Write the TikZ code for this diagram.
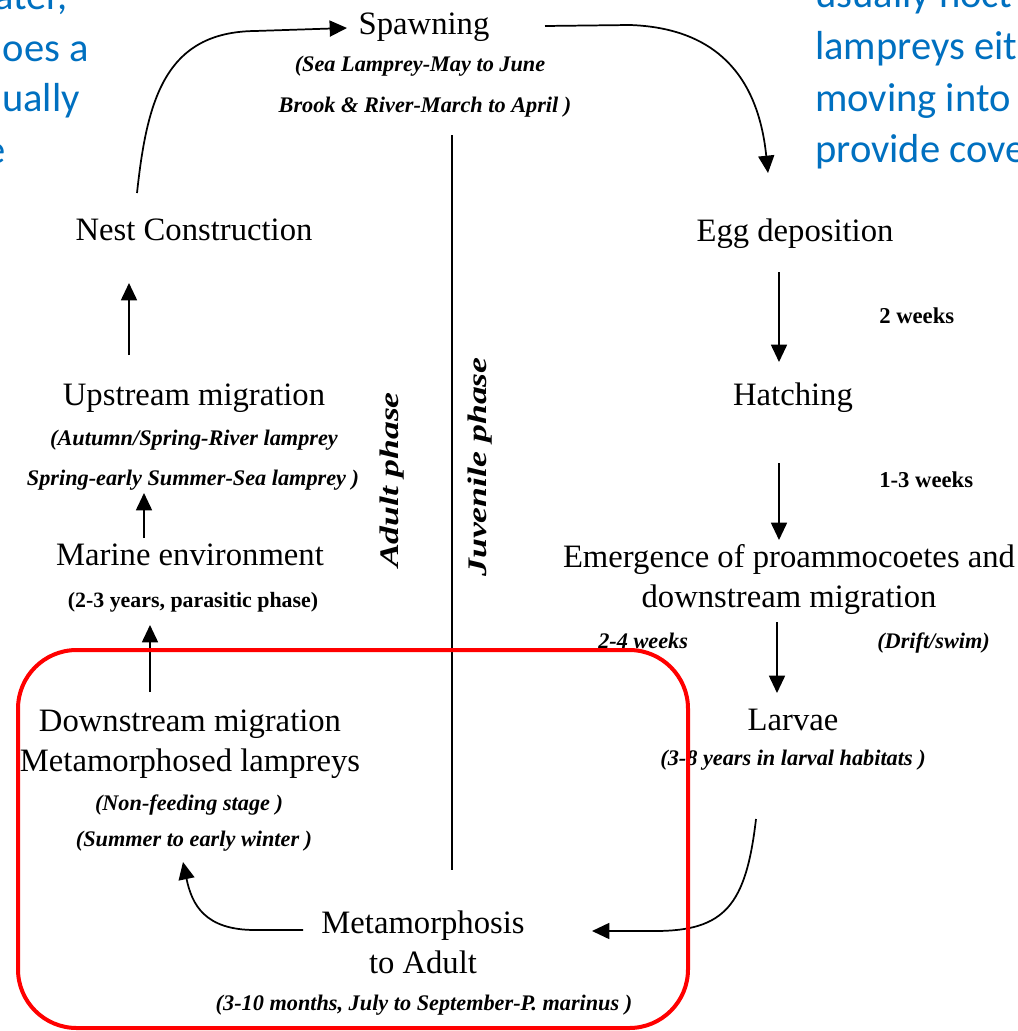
\documentclass[tikz,border=0pt]{standalone}
\usepackage{fontspec}
\setmainfont{Liberation Serif}
\newfontfamily\slidefont{Carlito}
\usepackage{graphicx}
\usepackage{tikz}
\usetikzlibrary{arrows.meta,calc}
\definecolor{slideblue}{RGB}{0,112,192}
\definecolor{boxred}{RGB}{255,0,0}

\begin{document}
\begin{tikzpicture}[x=0.75pt, y=-0.75pt, >={Triangle[length=13pt,width=12pt]}]
\tikzstyle{stage}=[font=\fontsize{24.5}{30}\selectfont, inner sep=0pt, anchor=base, align=center]
\tikzstyle{sub}=[font=\fontsize{16.7}{21}\selectfont\bfseries\itshape, inner sep=0pt, anchor=base]
\tikzstyle{subbf}=[font=\fontsize{16.4}{20}\selectfont\bfseries, inner sep=0pt, anchor=base]
\tikzstyle{wk}=[font=\fontsize{17}{20}\selectfont\bfseries, inner sep=0pt, anchor=base west]
\tikzstyle{wkit}=[font=\fontsize{16.7}{20}\selectfont\bfseries\itshape, inner sep=0pt, anchor=base west]
\tikzstyle{phase}=[font=\fontsize{26.8}{30}\selectfont\bfseries\itshape, rotate=90, inner sep=0pt]
\tikzstyle{slide}=[font=\slidefont\fontsize{30.4}{38}\selectfont, text=slideblue, inner sep=0pt]
\tikzstyle{arr}=[->, line width=1.3pt]
\useasboundingbox (0,0) rectangle (1017,1031);
\fill[white] (0,0) rectangle (1017,1031);
\clip (0,0) rectangle (1017,1031);

% slide text cut off at both edges
\node[slide, anchor=base east] (sl1) at (68,10) {ater,};
\node[slide, anchor=base east] (sl2) at (89,62) {oes a};
\node[slide, anchor=base east] (sl3) at (80,112) {ually};
\node[slide, anchor=base east] (sl4) at (6,163) {e};
\node[slide, anchor=base west] (sr1) at (815,8) {usually noct};
\node[slide, anchor=base west] (sr2) at (815,60) {lampreys eit};
\node[slide, anchor=base west] (sr3) at (815,111) {moving into};
\node[slide, anchor=base west] (sr4) at (815,162) {provide cove};

% life cycle stages (base = last line)
\node[stage] (spawn) at (424,35) {Spawning};
\node[sub] (spawnA) at (420,72) {(Sea Lamprey-May to June};
\node[sub] (spawnB) at (425,113) {Brook \& River-March to April )};
\node[stage] (nest) at (194,240) {Nest Construction};
\node[stage] (egg) at (795,241) {Egg deposition};
\node[wk] (wkA) at (879,323) {2 weeks};
\node[stage] (hatch) at (793,405) {Hatching};
\node[wk] (wkB) at (879,487) {1-3 weeks};
\node[stage] (emerge) at (789,607) {Emergence of proammocoetes and\\downstream migration};
\node[wkit] (wkC) at (598,648) {2-4 weeks};
\node[wkit] (drift) at (877,648) {(Drift/swim)};
\node[stage] (larvae) at (793,730) {Larvae};
\node[sub] (larvaeA) at (793,765) {(3-8 years in larval habitats )};
\node[stage] (upstr) at (194,405) {Upstream migration};
\node[sub] (upstrA) at (194,445) {(Autumn/Spring-River lamprey};
\node[sub] (upstrB) at (193,485) {Spring-early Summer-Sea lamprey )};
\node[stage] (marine) at (190,565) {Marine environment};
\node[subbf] (marineA) at (193,607) {(2-3 years, parasitic phase)};
\node[stage] (down) at (190,771) {Downstream migration\\Metamorphosed lampreys};
\node[sub] (downA) at (189,810) {(Non-feeding stage )};
\node[sub] (downB) at (194,846) {(Summer to early winter )};
\node[stage] (meta) at (423,973) {Metamorphosis\\to Adult};
\node[sub] (metaA) at (424,1010) {(3-10 months, July to September-P. marinus )};

% phases
\coordinate (divtop) at (452,135);
\coordinate (divbot) at (452,870);
\draw[line width=1.4pt] (divtop) -- (divbot);
\node[phase] (adult) at (392,480) {\scalebox{1}[0.75]{Adult phase}};
\node[phase] (juv) at (480,467) {\scalebox{1}[0.75]{Juvenile phase}};

% cycle
\draw[arr] ($(nest.base)+(-57,-47)$) .. controls (147,100) and (165,32) .. (255,31) -- ($(spawn.base)+(-77,-7)$);
\draw[arr] ($(spawn.base)+(121,-9)$) -- (630,25) .. controls (715,28) and (758,75) .. ($(egg.base)+(-27,-68)$);
\draw[arr] ($(egg.base)+(-16,31)$) -- ($(hatch.base)+(-14,-43)$);
\draw[arr] ($(hatch.base)+(-14,58)$) -- ($(emerge.base)+(-10,-67)$);
\draw[arr] ($(emerge.base)+(-12,15)$) -- ($(larvae.base)+(-16,-37)$);
\draw[arr] ($(larvae.base)+(-37,89)$) .. controls (746,905) and (725,931) .. (655,931) -- ($(meta.base)+(169,-42)$);
\draw[arr] ($(meta.base)+(-120,-43)$) -- (255,930) .. controls (205,930) and (192,905) .. ($(downB.base)+(-11,16)$);
\draw[arr] ($(down.base)+(-40,-79)$) -- ($(marineA.base)+(-43,18)$);
\draw[arr] ($(marine.base)+(-46,-27)$) -- ($(upstrB.base)+(-49,8)$);
\draw[arr] ($(upstr.base)+(-65,-50)$) -- ($(nest.base)+(-65,43)$);

% highlight
\draw[boxred, line width=3pt, rounded corners=44pt] (18,650) rectangle (688,1028);
\end{tikzpicture}
\end{document}
